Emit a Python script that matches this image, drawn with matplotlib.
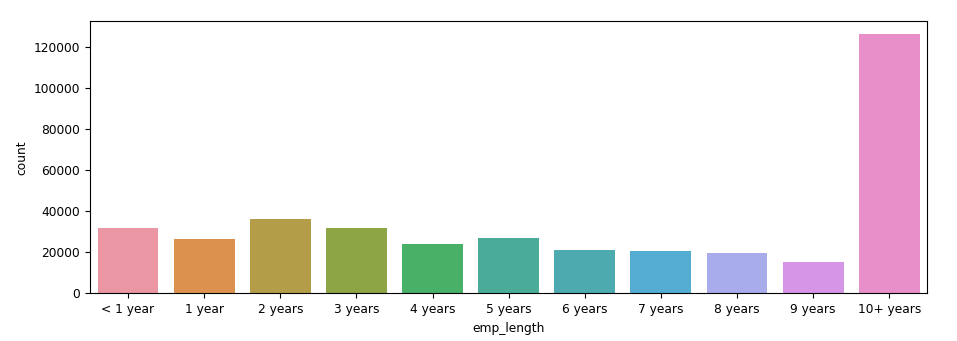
import matplotlib
matplotlib.use("Agg")
import matplotlib.pyplot as plt
import seaborn as sns

# Employment length counts
emp_length = ["< 1 year", "1 year", "2 years", "3 years", "4 years", "5 years",
              "6 years", "7 years", "8 years", "9 years", "10+ years"]
counts = [31700, 26300, 36000, 31650, 23900, 26800,
          20900, 20800, 19500, 15250, 126100]

# husl colours, desaturated the way countplot does it
colors = [sns.desaturate(c, 0.75) for c in sns.husl_palette(len(emp_length), l=.7)]

fig, ax = plt.subplots(figsize=(9.57, 3.41), dpi=100)
fig.subplots_adjust(left=0.094, right=0.969, top=0.938, bottom=0.14)

x = range(len(emp_length))
ax.bar(x, counts, width=0.8, color=colors)
ax.set_xticks(list(x))
ax.set_xticklabels(emp_length, fontsize=8.8)
ax.tick_params(axis="y", labelsize=8.8)
ax.set_xlim(-0.5, len(emp_length) - 0.5)
ax.set_xlabel("emp_length", fontsize=8.8)
ax.set_ylabel("count", fontsize=8.8)

plt.savefig("out.png", dpi=100)
